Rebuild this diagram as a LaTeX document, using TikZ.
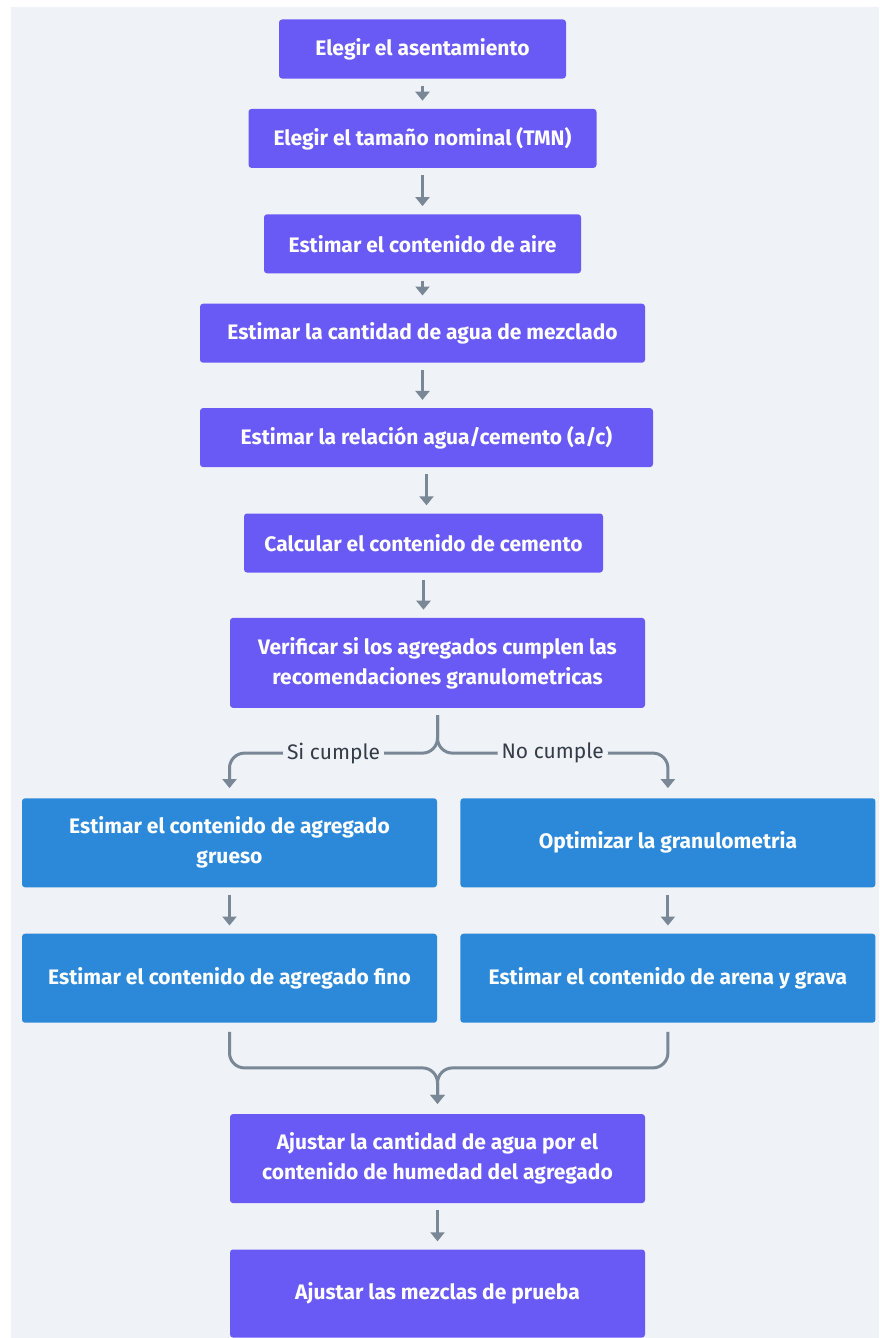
\documentclass[tikz,border=0pt]{standalone}
\usepackage{fontspec}
\setmainfont{Fira Sans}
\usetikzlibrary{arrows.meta,positioning}
\definecolor{stepviolet}{HTML}{695AF5}
\definecolor{stepblue}{HTML}{2C89D9}
\definecolor{bgpanel}{HTML}{EFF2F6}
\definecolor{linkgray}{HTML}{7A8796}
\definecolor{labelgray}{HTML}{343C48}

\begin{document}
\begin{tikzpicture}[node distance=30pt,
  block/.style={fill=stepviolet,rounded corners=3pt,text=white,align=center,inner sep=0pt,
    font=\fontsize{21}{30}\selectfont\bfseries,minimum height=59pt},
  blueblock/.style={block,fill=stepblue,minimum width=415pt,minimum height=89pt},
  arrow/.style={-{Triangle[width=14pt,length=9pt]},line width=3pt,draw=linkgray,shorten <=7pt,shorten >=8pt},
  link/.style={-{Triangle[width=14pt,length=9pt]},line width=3pt,draw=linkgray,rounded corners=15pt},
  tag/.style={fill=bgpanel,text=labelgray,inner sep=4pt,font=\fontsize{21}{24}\selectfont}]
  \useasboundingbox (0,0) rectangle (879pt,-1338pt);
  \fill[white] (0,0) rectangle (879pt,-1338pt);
  \fill[bgpanel] (11pt,-7pt) rectangle (879pt,-1338pt);

  % main column
  \node[block,minimum width=287pt] (b1) at (422.5pt,-49pt) {Elegir el asentamiento};
  \node[block,minimum width=348pt,below=30pt of b1] (b2) {Elegir el tamaño nominal (TMN)};
  \node[block,minimum width=317pt,below=46pt of b2] (b3) {Estimar el contenido de aire};
  \node[block,minimum width=445pt,below=30pt of b3] (b4) {Estimar la cantidad de agua de mezclado};
  \node[block,minimum width=453pt,below=45pt of b4,xshift=4pt] (b5) {Estimar la relación agua/cemento (a/c)};
  \node[block,minimum width=359pt,below=46pt of b5,xshift=-3pt] (b6) {Calcular el contenido de cemento};
  \node[block,minimum width=415pt,minimum height=90pt,below=45pt of b6,xshift=14pt] (b7)
    {Verificar si los agregados cumplen las\\recomendaciones granulometricas};

  % two branches
  \node[blueblock,below=90pt of b7,xshift=-208pt] (gru) {Estimar el contenido de agregado\\grueso};
  \node[blueblock,right=23pt of gru] (opt) {Optimizar la granulometria};
  \node[blueblock,below=46pt of gru] (fino) {Estimar el contenido de agregado fino};
  \node[blueblock,below=46pt of opt] (arena) {Estimar el contenido de arena y grava};

  \node[block,minimum width=415pt,minimum height=89pt,below=91pt of fino,xshift=208pt] (hum)
    {Ajustar la cantidad de agua por el\\contenido de humedad del agregado};
  \node[block,minimum width=415pt,minimum height=88pt,below=46pt of hum] (prueba) {Ajustar las mezclas de prueba};

  \draw[arrow] (b1.south) -- (b1.south |- b2.north);
  \draw[arrow] (b2.south) -- (b2.south |- b3.north);
  \draw[arrow] (b3.south) -- (b3.south |- b4.north);
  \draw[arrow] (b4.south) -- (b4.south |- b5.north);
  \draw[arrow] (b5.south) -- (b5.south |- b6.north);
  \draw[arrow] (b6.south) -- (b6.south |- b7.north);

  \coordinate[below=45pt of b7] (split);
  \draw[link] ([yshift=-7pt]b7.south) -- (split) -| node[tag,pos=0.25]{Si cumple} ([yshift=10pt]gru.north);
  \draw[link] ([yshift=-7pt]b7.south) -- (split) -| node[tag,pos=0.25]{No cumple} ([yshift=10pt]opt.north);

  \draw[arrow] (gru) -- (fino);
  \draw[arrow] (opt) -- (arena);

  \coordinate[above=46pt of hum] (merge);
  \draw[link] ([yshift=-9pt]fino.south) |- (merge) -- ([yshift=10pt]hum.north);
  \draw[link] ([yshift=-9pt]arena.south) |- (merge) -- ([yshift=10pt]hum.north);

  \draw[arrow] (hum) -- (prueba);
\end{tikzpicture}
\end{document}
